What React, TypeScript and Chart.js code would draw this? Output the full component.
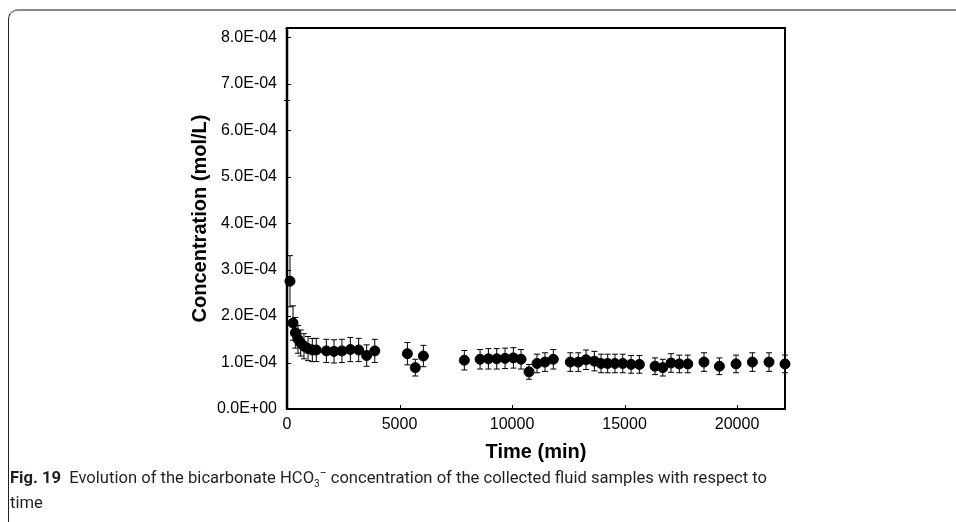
import React, { useEffect, useRef } from "react";
import { Chart, registerables } from "chart.js";
Chart.register(...registerables);

// Sampling time (min)
const timeMin = [
  0, 133, 267, 370, 490, 610, 755, 935, 1125, 1300,
  1750, 2090, 2440, 2815, 3185, 3540, 3900,
  5350, 5700, 6060,
  7880, 8580, 8950, 9320, 9690, 10060, 10400, 10755, 11110, 11465, 11835,
  12590, 12945, 13290, 13660, 13955, 14250, 14575, 14920,
  15290, 15660,
  16355, 16700, 17065, 17435, 17810,
  18530, 19215, 19955, 20680, 21420, 22130,
];
// HCO3- concentration, in units of 1e-4 mol/L
const concE4 = [
  8.3, 2.75, 1.85, 1.64, 1.5, 1.42, 1.35, 1.3, 1.27, 1.27,
  1.25, 1.24, 1.25, 1.28, 1.27, 1.15, 1.25,
  1.19, 0.89, 1.14,
  1.05, 1.07, 1.08, 1.08, 1.09, 1.1, 1.07, 0.8, 0.98, 1.01, 1.07,
  1.01, 1.01, 1.06, 1.03, 0.98, 0.98, 0.98, 0.98,
  0.96, 0.96,
  0.92, 0.89, 0.99, 0.97, 0.97,
  1.01, 0.92, 0.97, 1.01, 1.01, 0.97,
];
// Error bar half-length, in units of 1e-4 mol/L
const errE4 = [
  1.66, 0.55, 0.37, 0.33, 0.3, 0.28, 0.27, 0.26, 0.25, 0.25,
  0.25, 0.25, 0.25, 0.26, 0.25, 0.23, 0.25,
  0.24, 0.18, 0.23,
  0.21, 0.21, 0.22, 0.22, 0.22, 0.22, 0.21, 0.16, 0.2, 0.2, 0.21,
  0.2, 0.2, 0.21, 0.21, 0.2, 0.2, 0.2, 0.2,
  0.19, 0.19,
  0.18, 0.18, 0.2, 0.19, 0.19,
  0.2, 0.18, 0.19, 0.2, 0.2, 0.19,
];
const xTickValues = [0, 5000, 10000, 15000, 20000];
const yTickValuesE4 = [0, 1, 2, 3, 4, 5, 6, 7, 8];
const X_MAX = 22130;
const Y_MAX_E4 = 8.2;

const FONT = "'Liberation Sans', Arial, sans-serif";

function fmtExp(vE4: number): string {
  const v = vE4 * 1e-4;
  const [m, e] = v.toExponential(1).split("e");
  const sign = e[0] === "-" ? "-" : "+";
  const digits = e.replace(/^[+-]/, "").padStart(2, "0");
  return `${m}E${sign}${digits}`;
}

const errorBarPlugin = {
  id: "errorBars",
  beforeDatasetsDraw(chart: any) {
    const { ctx, chartArea, scales } = chart;
    const xs = scales.x, ys = scales.y;
    ctx.save();
    ctx.beginPath();
    ctx.rect(0, chartArea.top, chart.width, chart.height - chartArea.top);
    ctx.clip();
    ctx.strokeStyle = "#000";
    ctx.lineWidth = 1;
    timeMin.forEach((t, i) => {
      const px = xs.getPixelForValue(t);
      const lo = ys.getPixelForValue(concE4[i] - errE4[i]);
      const hi = ys.getPixelForValue(concE4[i] + errE4[i]);
      ctx.beginPath();
      ctx.moveTo(px, lo);
      ctx.lineTo(px, hi);
      ctx.moveTo(px - 3, lo);
      ctx.lineTo(px + 3, lo);
      ctx.moveTo(px - 3, hi);
      ctx.lineTo(px + 3, hi);
      ctx.stroke();
    });
    ctx.restore();
  },
};

const framePlugin = {
  id: "frame",
  afterDraw(chart: any) {
    const { ctx, chartArea, scales } = chart;
    const { left, right, top, bottom } = chartArea;
    ctx.save();
    ctx.strokeStyle = "#000";
    ctx.lineWidth = 1;
    ctx.beginPath();
    yTickValuesE4.forEach((v) => {
      const py = Math.round(scales.y.getPixelForValue(v)) + 0.5;
      ctx.moveTo(left, py);
      ctx.lineTo(left + 4, py);
    });
    xTickValues.forEach((v) => {
      const px = Math.round(scales.x.getPixelForValue(v)) + 0.5;
      ctx.moveTo(px, bottom);
      ctx.lineTo(px, bottom - 4);
    });
    ctx.stroke();
    ctx.lineWidth = 2;
    ctx.strokeRect(left, top, right - left, bottom - top);
    ctx.lineWidth = 2.5;
    ctx.beginPath();
    ctx.moveTo(left, top);
    ctx.lineTo(left, bottom);
    ctx.stroke();
    ctx.restore();
  },
};

export default function App() {
  const ref = useRef<HTMLCanvasElement>(null);
  useEffect(() => {
    if (!ref.current) return;
    const chart = new Chart(ref.current, {
      type: "scatter",
      data: {
        datasets: [
          {
            data: timeMin.map((t, i) => ({ x: t, y: concE4[i] })),
            backgroundColor: "#000",
            borderColor: "#000",
            pointRadius: 5,
            pointHoverRadius: 5,
            clip: { left: false, top: 0, right: false, bottom: false } as any,
          },
        ],
      },
      options: {
        animation: false,
        responsive: false,
        devicePixelRatio: 1,
        events: [],
        layout: { padding: { left: 184, top: 28, right: 171, bottom: 0 } },
        plugins: { legend: { display: false }, tooltip: { enabled: false } },
        scales: {
          x: {
            type: "linear",
            min: 0,
            max: X_MAX,
            afterFit: (s: any) => { s.height = 59; },
            afterBuildTicks: (s: any) => { s.ticks = xTickValues.map((v) => ({ value: v })); },
            grid: { display: false, drawTicks: false },
            border: { display: false },
            ticks: {
              padding: 6,
              color: "#000",
              font: { family: FONT, size: 16 },
              callback: (v: any) => String(v),
            },
            title: {
              display: true,
              text: "Time (min)",
              color: "#000",
              padding: { top: 4, bottom: 4 },
              font: { family: FONT, size: 20, weight: "bold" },
            },
          },
          y: {
            type: "linear",
            min: 0,
            max: Y_MAX_E4,
            afterFit: (s: any) => { s.width = 103; },
            afterBuildTicks: (s: any) => { s.ticks = yTickValuesE4.map((v) => ({ value: v })); },
            grid: { display: false, drawTicks: false },
            border: { display: false },
            ticks: {
              padding: 10,
              color: "#000",
              font: { family: FONT, size: 16 },
              callback: (v: any) => fmtExp(Number(v)),
            },
            title: {
              display: true,
              text: "Concentration (mol/L)",
              color: "#000",
              padding: { top: 4, bottom: 4 },
              font: { family: FONT, size: 20, weight: "bold" },
            },
          },
        },
      },
      plugins: [errorBarPlugin, framePlugin],
    });
    return () => chart.destroy();
  }, []);

  return (
    <div style={{ position: "absolute", left: 0, top: 0, width: 956, height: 522, background: "#fff", overflow: "hidden" }}>
      <div
        style={{
          position: "absolute",
          left: 8,
          top: 9,
          width: 960,
          height: 530,
          borderTop: "2px solid #8a8a8a",
          borderLeft: "1.5px solid #222",
          borderTopLeftRadius: 10,
          boxSizing: "border-box",
        }}
      />
      <canvas ref={ref} width={956} height={468} style={{ position: "absolute", left: 0, top: 0, width: 956, height: 468 }} />
      <div
        style={{
          position: "absolute",
          left: 10,
          top: 466,
          fontFamily: "Roboto, 'Noto Sans', sans-serif",
          fontSize: 16.6,
          lineHeight: "23px",
          color: "#231f20",
          whiteSpace: "nowrap",
        }}
      >
        <b>Fig. 19</b>&nbsp; Evolution of the bicarbonate HCO
        <span style={{ fontSize: 10, position: "relative", top: 4 }}>3</span>
        <span style={{ fontSize: 12, position: "relative", top: -6 }}>−</span> concentration of the collected fluid samples with respect to
        <br />
        time
      </div>
    </div>
  );
}
